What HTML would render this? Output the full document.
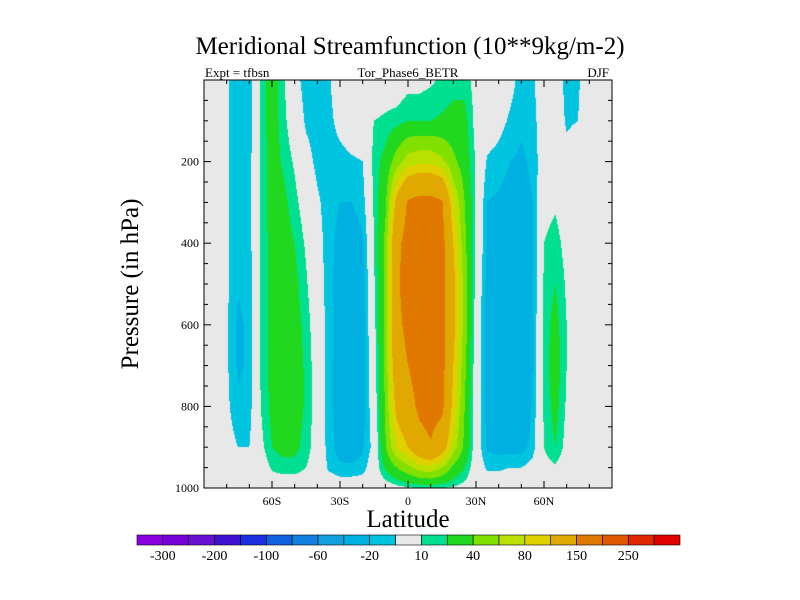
<!DOCTYPE html>
<html><head><meta charset="utf-8"><style>
body{margin:0;background:#fff;width:800px;height:600px;overflow:hidden;position:relative;font-family:"Liberation Serif",serif}
#fld{position:absolute;left:204px;top:80px}
svg{position:absolute;left:0;top:0}
</style></head><body>
<canvas id="fld" width="408" height="408"></canvas>
<svg id="s" width="800" height="600">
<text x="410" y="54" font-size="25" text-anchor="middle">Meridional Streamfunction (10**9kg/m-2)</text>
<text x="205" y="77" font-size="13">Expt = tfbsn</text>
<text x="408" y="77" font-size="13" text-anchor="middle">Tor_Phase6_BETR</text>
<text x="609" y="77" font-size="13" text-anchor="end">DJF</text>
<text x="408" y="527" font-size="25" text-anchor="middle">Latitude</text>
<text transform="translate(138,284) rotate(-90)" font-size="25" text-anchor="middle">Pressure (in hPa)</text>
<g id="ax"></g><g id="cb"></g>
</svg>
<script>
const lats=[-90,-85,-80,-75,-70,-65,-60,-55,-50,-45,-40,-35,-30,-25,-20,-15,-10,-5,0,5,10,15,20,25,30,35,40,45,50,55,60,65,70,75,80,85,90];
const pres=[0,100,200,300,400,500,600,700,800,900,950,1000];
const Z=[
[0,0,0,0,0,0,0,0,0,0,0,0],
[0,0,0,0,0,0,0,0,0,0,0,0],
[-8,-8,-8,-8,-8,-8,-8,-8,-7,-4,0,0],
[-18,-18,-18,-18,-18,-19,-22,-22,-18,-10,0,0],
[-16,-16,-15,-15,-15,-16,-18,-18,-15,-10,0,0],
[12,12,12,12,12,12,12,11,10,6,0,0],
[28,28,27,26,25,25,25,25,24,20,12,0],
[12,14,18,24,26,27,28,28,28,25,15,0],
[-5,0,8,14,20,24,26,27,28,24,15,0],
[-15,-12,-5,2,8,12,16,18,18,15,10,0],
[-15,-15,-13,-8,-5,-3,0,2,3,3,2,0],
[-12,-14,-16,-15,-15,-15,-15,-16,-16,-15,-12,0],
[0,-5,-15,-20,-25,-28,-28,-28,-28,-25,-18,0],
[0,0,-12,-20,-28,-30,-30,-30,-30,-28,-18,0],
[0,0,-10,-15,-22,-25,-25,-25,-25,-22,-15,0],
[0,10,14,12,10,8,5,2,0,-5,0,0],
[2,12,25,35,45,45,45,45,42,38,22,2],
[0,15,50,110,140,145,140,130,110,80,40,5],
[5,20,70,155,165,165,160,150,130,100,55,8],
[5,20,75,165,175,175,175,170,160,130,70,10],
[8,20,75,165,175,175,175,175,170,145,75,10],
[12,22,65,155,165,165,165,165,160,120,60,10],
[15,25,45,80,100,110,110,100,90,70,35,8],
[15,25,30,40,45,50,50,45,40,35,20,5],
[5,5,8,8,8,5,2,0,0,0,0,0],
[0,0,-12,-20,-22,-25,-25,-25,-25,-22,-12,0],
[0,-5,-15,-22,-25,-28,-28,-30,-30,-25,-12,0],
[-5,-12,-20,-25,-28,-30,-35,-35,-30,-25,-10,0],
[-15,-18,-22,-25,-28,-30,-35,-40,-38,-25,-10,0],
[-12,-15,-18,-20,-22,-22,-22,-20,-18,-15,-5,0],
[0,0,0,5,10,12,14,14,12,10,5,0],
[0,0,0,8,15,20,25,28,25,20,8,0],
[-15,-12,-5,0,5,8,10,10,8,5,0,0],
[-12,-10,0,0,0,0,0,0,0,0,0,0],
[0,0,0,0,0,0,0,0,0,0,0,0],
[0,0,0,0,0,0,0,0,0,0,0,0],
[0,0,0,0,0,0,0,0,0,0,0,0]];
const levels=[-300,-250,-200,-150,-100,-80,-60,-40,-20,-10,10,20,40,60,80,100,150,200,250,300];
const colors=["#8a00e0","#7800d8","#6a10d0","#4010d0","#1a30e0","#1060e0","#1080e0","#10a0e0","#00b0e0","#00c4e0","#e8e8e8","#00e090","#20d820","#80e000","#b8e000","#e0d000","#e0a800","#e07800","#e05800","#e02800","#e00000"];
const cbLabels=["-300","-200","-100","-60","-20","10","40","80","150","250"];
const xTicks=[-60,-30,0,30,60], xTickLabels=["60S","30S","0","30N","60N"];
const yTicks=[200,400,600,800,1000];
const X0=204,Y0=80,W=408,H=408;
const xs=l=>X0+(l+90)/180*W, ys=p=>Y0+p/1000*H;
function val(lat,p){
 let i=Math.min(lats.length-2,Math.max(0,Math.floor((lat+90)/5)));let fx=(lat-lats[i])/5;
 let j=0;while(j<pres.length-2&&p>pres[j+1])j++;let fy=(p-pres[j])/(pres[j+1]-pres[j]);
 fx=Math.max(0,Math.min(1,fx));fy=Math.max(0,Math.min(1,fy));
 return Z[i][j]*(1-fx)*(1-fy)+Z[i+1][j]*fx*(1-fy)+Z[i][j+1]*(1-fx)*fy+Z[i+1][j+1]*fx*fy;}
function col(v){let k=0;while(k<levels.length&&v>=levels[k])k++;return colors[k];}
const ctx=document.getElementById('fld').getContext('2d');
for(let py=0;py<H;py++)for(let px=0;px<W;px++){
 const lat=(px+0.5)/W*180-90,p=(py+0.5)/H*1000;ctx.fillStyle=col(val(lat,p));ctx.fillRect(px,py,1,1);}
const NS='http://www.w3.org/2000/svg';
function el(t,a,par){const e=document.createElementNS(NS,t);for(const k in a)e.setAttribute(k,a[k]);par.appendChild(e);return e;}
const ax=document.getElementById('ax');
const fr=el('rect',{x:X0,y:Y0,width:W,height:H,fill:'none',stroke:'#000','stroke-width':1},ax);


for(let l=-80;l<=80;l+=10){const mj=l%30===0,L=mj?7:4;
 el('line',{x1:xs(l),x2:xs(l),y1:Y0+H,y2:Y0+H-L,stroke:'#000'},ax);
 el('line',{x1:xs(l),x2:xs(l),y1:Y0,y2:Y0+L,stroke:'#000'},ax);}
for(let p=50;p<1000;p+=50){const mj=p%200===0,L=mj?7:4;
 el('line',{x1:X0,x2:X0+L,y1:ys(p),y2:ys(p),stroke:'#000'},ax);
 el('line',{x1:X0+W,x2:X0+W-L,y1:ys(p),y2:ys(p),stroke:'#000'},ax);}
xTicks.forEach((l,i)=>{const t=el('text',{x:xs(l),y:Y0+H+17,'font-size':12,'text-anchor':'middle'},ax);t.textContent=xTickLabels[i];
 
 });
yTicks.forEach(p=>{const t=el('text',{x:X0-5,y:ys(p)+4,'font-size':12,'text-anchor':'end'},ax);t.textContent=p;
 
 });
const cb=document.getElementById('cb');const CX=137,CW=543,bw=CW/colors.length;
colors.forEach((c,k)=>{const r=el('rect',{x:CX+k*bw,y:535,width:bw,height:10,fill:c,stroke:'#000','stroke-width':0.6},cb);
 
 });
cbLabels.forEach((s,i)=>{const t=el('text',{x:CX+(2*i+1)*bw,y:560,'font-size':14,'text-anchor':'middle'},cb);t.textContent=s;
 
 });
</script>
</body></html>
